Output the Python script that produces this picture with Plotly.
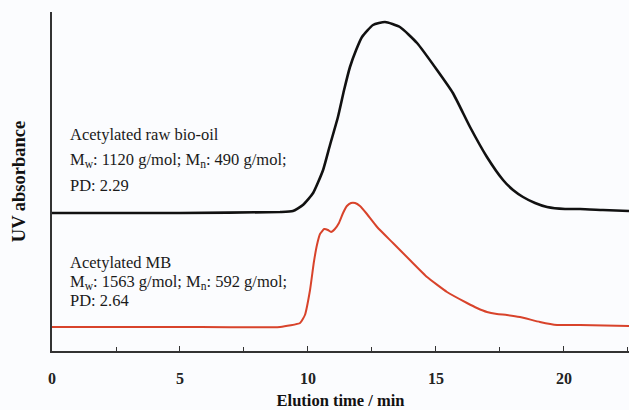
import plotly.graph_objects as go

# Elution time (min) and UV absorbance (arbitrary units, traces offset vertically)
raw_time = [0.0, 5.0, 8.91, 9.41, 9.80, 10.20, 10.59, 10.86, 11.17, 11.41, 11.64,
            11.88, 12.11, 12.54, 13.01, 13.59, 14.26, 15.04, 15.66, 16.33, 16.99,
            17.62, 18.01, 18.40, 18.87, 19.34, 20.04, 20.63, 21.52, 22.54]
raw_abs = [1.38, 1.38, 1.39, 1.40, 1.46, 1.58, 1.81, 2.06, 2.34, 2.61, 2.84,
           3.01, 3.14, 3.26, 3.29, 3.24, 3.08, 2.81, 2.58, 2.24, 1.94,
           1.71, 1.61, 1.54, 1.48, 1.44, 1.42, 1.42, 1.41, 1.40]

mb_time = [0.0, 5.0, 8.91, 9.69, 9.88, 10.08, 10.23, 10.35, 10.47, 10.63, 10.78,
           10.90, 11.05, 11.21, 11.37, 11.52, 11.68, 11.84, 12.03, 12.27, 12.70,
           13.32, 13.98, 14.65, 15.43, 16.21, 16.60, 16.99, 17.38, 17.77, 18.28,
           19.06, 19.73, 20.63, 22.54]
mb_abs = [0.24, 0.24, 0.24, 0.28, 0.36, 0.61, 0.89, 1.06, 1.17, 1.22, 1.21,
          1.19, 1.22, 1.28, 1.38, 1.45, 1.48, 1.48, 1.45, 1.38, 1.24,
          1.08, 0.91, 0.74, 0.59, 0.48, 0.43, 0.39, 0.37, 0.36, 0.34,
          0.29, 0.26, 0.26, 0.25]

x_ticks = [0, 5, 10, 15, 20]

raw_label = ["Acetylated raw bio-oil",
             "M<sub>w</sub>: 1120 g/mol; M<sub>n</sub>: 490 g/mol;",
             "PD: 2.29"]
mb_label = ["Acetylated MB",
            "M<sub>w</sub>: 1563 g/mol; M<sub>n</sub>: 592 g/mol;",
            "PD: 2.64"]

SERIF = "Liberation Serif, Times New Roman, serif"
BG = "#fbfcfe"

fig = go.Figure()
fig.add_trace(go.Scatter(x=raw_time, y=raw_abs, mode="lines",
                         line=dict(color="#111111", width=2.6, shape="spline", smoothing=0.5),
                         showlegend=False, hoverinfo="skip"))
fig.add_trace(go.Scatter(x=mb_time, y=mb_abs, mode="lines",
                         line=dict(color="#d8432b", width=2.0, shape="spline", smoothing=0.4),
                         showlegend=False, hoverinfo="skip"))

# Sample descriptions, one line per annotation
for txt, y in zip(raw_label, [2.17, 1.91, 1.66]):
    fig.add_annotation(x=0.62, y=y, text=txt, showarrow=False, xanchor="left",
                       yanchor="middle", font=dict(family=SERIF, size=16.5, color="#1a1a1a"))
for txt, y in zip(mb_label, [0.89, 0.69, 0.51]):
    fig.add_annotation(x=0.62, y=y, text=txt, showarrow=False, xanchor="left",
                       yanchor="middle", font=dict(family=SERIF, size=16.5, color="#1a1a1a"))

fig.update_layout(
    width=629, height=410,
    margin=dict(l=52, r=0, t=12, b=59),
    paper_bgcolor=BG, plot_bgcolor=BG,
    xaxis=dict(range=[0, 22.54], tickvals=x_ticks,
               ticktext=["<b>%d</b>" % v for v in x_ticks],
               showline=True, linecolor="#333333", linewidth=1.5, ticks="inside",
               ticklen=5, tickcolor="#333333", tickwidth=1.2, ticklabelstandoff=12,
               minor=dict(dtick=2.5, ticks="inside", ticklen=4, tickcolor="#333333"),
               showgrid=False, zeroline=False,
               tickfont=dict(family=SERIF, size=16, color="#222222"),
               title=dict(text="<b>Elution time / min</b>", standoff=10,
                          font=dict(family=SERIF, size=16.5, color="#111111"))),
    yaxis=dict(range=[0, 3.39], showline=True, linecolor="#333333", linewidth=1.5,
               showticklabels=False, ticks="", showgrid=False, zeroline=False,
               title=dict(text="<b>UV absorbance</b>", standoff=20,
                          font=dict(family=SERIF, size=18.5, color="#111111"))),
)

fig.write_html("out.html")
